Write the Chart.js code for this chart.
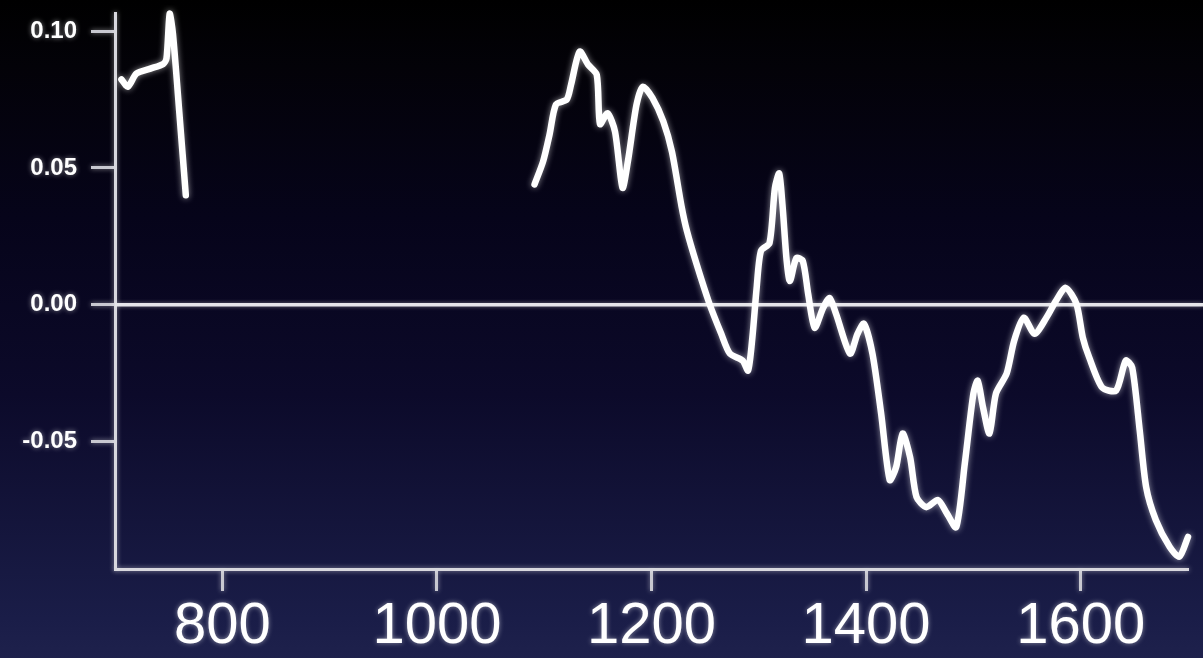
<!DOCTYPE html>
<html>
<head>
<meta charset="utf-8">
<script src="https://cdn.jsdelivr.net/npm/chart.js@4.4.1/dist/chart.umd.min.js"></script>
<style>
  html, body { margin: 0; padding: 0; }
  body {
    width: 1203px; height: 658px; overflow: hidden;
    background: linear-gradient(to bottom, #000000 0%, #030208 10%, #06041a 33%, #0c0a2a 60%, #1a1d48 94%, #1e214c 100%);
  }
  #wrap { position: relative; width: 1203px; height: 658px; }
</style>
</head>
<body>
<div id="wrap"><canvas id="c"></canvas></div>
<script>
// Early segment of the reconstruction (years AD, anomaly)
const earlyYears  = [706, 712, 720, 733, 745, 748, 751, 754, 760, 766];
const earlyValues = [0.0823, 0.0797, 0.0845, 0.0863, 0.088, 0.090, 0.1064, 0.099, 0.070, 0.040];

// Later segment, 1091-1700
const lateYears = [
  1091, 1099, 1105, 1111, 1121, 1125, 1133, 1141, 1149, 1152, 1159, 1166, 1173, 1178,
  1186, 1192, 1201, 1211, 1219, 1228, 1233, 1242, 1254, 1265, 1273, 1285, 1290, 1294,
  1298, 1302, 1310, 1315, 1319, 1322, 1326, 1329, 1335, 1341, 1346, 1352, 1360, 1366,
  1372, 1385, 1392, 1398, 1406, 1414, 1422, 1428, 1434, 1441, 1447, 1456, 1467, 1475,
  1484, 1492, 1500, 1504, 1509, 1515, 1521, 1531, 1538, 1547, 1557, 1568, 1577, 1586,
  1596, 1602, 1608, 1620, 1633, 1642, 1648, 1655, 1661, 1670, 1683, 1692, 1700
];
const lateValues = [
  0.044, 0.0524, 0.0622, 0.0732, 0.075, 0.0804, 0.0925, 0.0877, 0.084, 0.066, 0.070, 0.0633, 0.0427, 0.0524,
  0.073, 0.0797, 0.0755, 0.067, 0.056, 0.036, 0.027, 0.0149, 0.0004, -0.0106, -0.0178, -0.0204, -0.024, -0.012,
  0.0062, 0.0197, 0.0226, 0.0426, 0.048, 0.0368, 0.016, 0.0087, 0.0171, 0.016, 0.004, -0.0084, -0.0011, 0.0025,
  -0.0033, -0.0178, -0.0106, -0.0069, -0.018, -0.0397, -0.064, -0.0593, -0.047, -0.0557, -0.0702, -0.0739, -0.0713, -0.076,
  -0.0812, -0.0579, -0.0324, -0.0277, -0.0375, -0.047, -0.0324, -0.0251, -0.0131, -0.0047, -0.0106, -0.0047, 0.0015, 0.0062,
  0.0004, -0.012, -0.0193, -0.0302, -0.0313, -0.0204, -0.0229, -0.0459, -0.0666, -0.0786, -0.0885, -0.092, -0.0848
];

// Axis ticks
const xTicks = [800, 1000, 1200, 1400, 1600];
const yTicks = [-0.05, 0.00, 0.05, 0.10];

// One series with a gap between the two segments
const points = [];
earlyYears.forEach((yr, i) => points.push({ x: yr, y: earlyValues[i] }));
points.push({ x: 900, y: null });
lateYears.forEach((yr, i) => points.push({ x: yr, y: lateValues[i] }));

// Soft glow on the curve
const glow = {
  id: 'glow',
  beforeDatasetsDraw(chart) {
    const ctx = chart.ctx;
    ctx.save();
    ctx.shadowColor = 'rgba(255,255,255,0.55)';
    ctx.shadowBlur = 6;
  },
  afterDatasetsDraw(chart) { chart.ctx.restore(); }
};

// Soft glow on axis text
const textGlow = {
  id: 'textGlow',
  beforeDraw(chart) {
    chart.ctx.save();
    chart.ctx.shadowColor = 'rgba(255,255,255,0.5)';
    chart.ctx.shadowBlur = 5;
  },
  beforeDatasetsDraw(chart) { chart.ctx.restore(); }
};

// Zero reference line, running out to the right edge
const zeroLine = {
  id: 'zeroLine',
  beforeDatasetsDraw(chart) {
    const ctx = chart.ctx;
    const y = chart.scales.y.getPixelForValue(0);
    ctx.save();
    ctx.strokeStyle = '#e6e6ea';
    ctx.lineWidth = 3.5;
    ctx.shadowColor = 'rgba(255,255,255,0.4)';
    ctx.shadowBlur = 4;
    ctx.beginPath();
    ctx.moveTo(chart.chartArea.left, y);
    ctx.lineTo(chart.width, y);
    ctx.stroke();
    ctx.restore();
  }
};

new Chart(document.getElementById('c'), {
  type: 'line',
  data: {
    datasets: [{
      data: points,
      borderColor: '#ffffff',
      borderWidth: 6.5,
      pointRadius: 0,
      tension: 0.25,
      spanGaps: false,
      borderJoinStyle: 'round',
      borderCapStyle: 'round',
      clip: 8
    }]
  },
  plugins: [textGlow, zeroLine, glow],
  options: {
    responsive: true,
    maintainAspectRatio: false,
    animation: false,
    layout: { padding: { top: 13, right: 15, left: 0, bottom: 0 } },
    plugins: { legend: { display: false }, tooltip: { enabled: false } },
    scales: {
      x: {
        type: 'linear',
        min: 700,
        max: 1700,
        afterBuildTicks(scale) { scale.ticks = xTicks.map(v => ({ value: v })); },
        afterFit(scale) { scale.height = 89; scale.paddingLeft = 0; scale.paddingRight = 0; },
        border: { display: true, color: '#d8d8de', width: 3 },
        grid: { drawOnChartArea: false, drawTicks: true, tickLength: 22, tickColor: '#c8c8d0', tickWidth: 3 },
        ticks: {
          color: '#ffffff',
          padding: 1,
          maxRotation: 0,
          autoSkip: false,
          font: { family: '"Liberation Sans", Arial, sans-serif', size: 58 },
          callback: v => String(v)
        }
      },
      y: {
        type: 'linear',
        min: -0.0965,
        max: 0.1066,
        afterBuildTicks(scale) { scale.ticks = yTicks.map(v => ({ value: v })); },
        afterFit(scale) { scale.width = 115; scale.paddingTop = 0; scale.paddingBottom = 0; },
        border: { display: true, color: '#d8d8de', width: 3 },
        grid: { drawOnChartArea: false, drawTicks: true, tickLength: 24, tickColor: '#c8c8d0', tickWidth: 3 },
        ticks: {
          color: '#ffffff',
          padding: 14,
          autoSkip: false,
          font: { family: '"Liberation Sans", Arial, sans-serif', size: 24, weight: 'bold' },
          callback: v => v.toFixed(2)
        }
      }
    }
  }
});
</script>
</body>
</html>
